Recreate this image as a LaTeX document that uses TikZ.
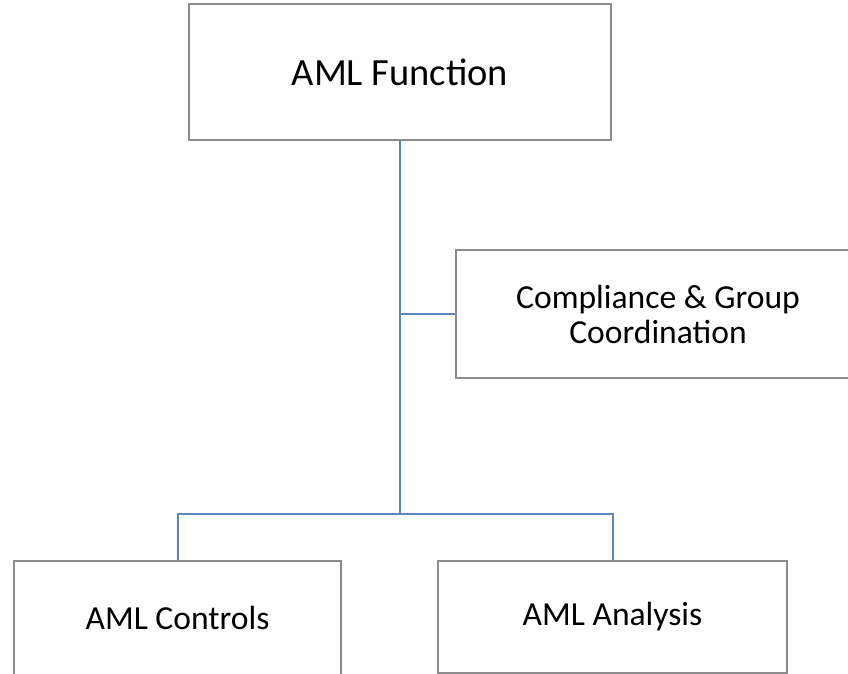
\documentclass[tikz,border=0pt]{standalone}
\usepackage{fontspec}
\setmainfont{Carlito}
\definecolor{boxgray}{HTML}{8C8C8C}
\definecolor{linkblue}{HTML}{5B87BE}
\tikzset{
  orgbox/.style={draw=boxgray, line width=1.8pt, fill=white, align=center, inner sep=0pt,
    font=\fontsize{33.6}{35}\selectfont},
  link/.style={draw=linkblue, line width=2pt}
}
\begin{document}
\begin{tikzpicture}[x=1pt,y=-1pt]
\useasboundingbox (0,0) rectangle (848,674);
\clip (0,0) rectangle (848,674);
\node[orgbox, minimum width=422pt, minimum height=136pt, font=\fontsize{38.5}{40}\selectfont] (top) at (400,72) {AML Function};
\node[orgbox, minimum width=404pt, minimum height=128pt] (comp) at (658,314) {Compliance \& Group\\Coordination};
\node[orgbox, minimum width=327pt, minimum height=119pt] (ctrl) at (177.5,620.5) {\raisebox{5pt}{AML Controls}};
\node[orgbox, minimum width=349pt, minimum height=112pt] (anal) at (612.5,617) {AML Analysis};
\coordinate (j1) at (top.south |- comp.west);
\coordinate (j2) at (400,514);
\draw[link] (top.south) -- (j2);
\draw[link] (j1) -- (comp.west);
\draw[link] (ctrl.north) |- (j2) -| (anal.north);
\end{tikzpicture}
\end{document}
